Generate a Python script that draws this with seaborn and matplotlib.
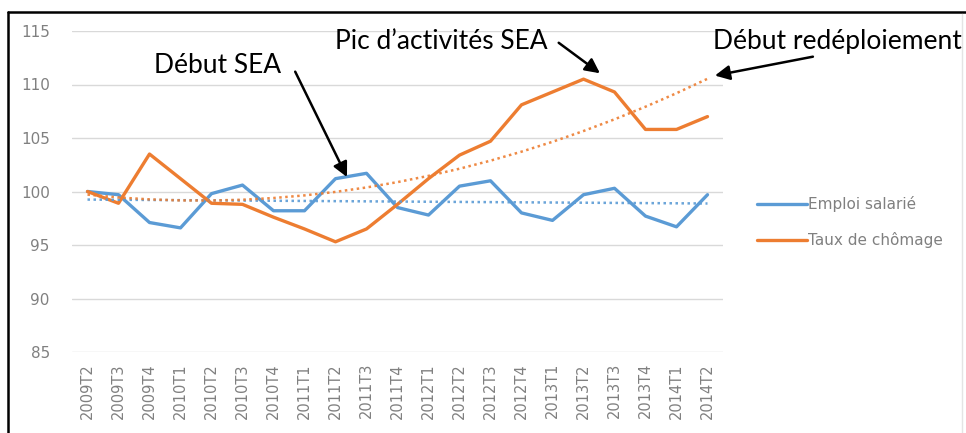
import numpy as np
import pandas as pd
import matplotlib
matplotlib.use("Agg")
import matplotlib.pyplot as plt
import seaborn as sns
from matplotlib.lines import Line2D

# ----------------------------------------------------------------------
# data (index 100 = 2009T2)
# ----------------------------------------------------------------------
quarters = [
    "2009T2", "2009T3", "2009T4",
    "2010T1", "2010T2", "2010T3", "2010T4",
    "2011T1", "2011T2", "2011T3", "2011T4",
    "2012T1", "2012T2", "2012T3", "2012T4",
    "2013T1", "2013T2", "2013T3", "2013T4",
    "2014T1", "2014T2",
]
emploi = [100.0, 99.7, 97.1, 96.6, 99.8, 100.6, 98.2, 98.2, 101.2, 101.7, 98.5,
          97.8, 100.5, 101.0, 98.0, 97.3, 99.7, 100.3, 97.7, 96.7, 99.7]
chomage = [100.0, 98.9, 103.5, 101.2, 98.9, 98.8, 97.6, 96.5, 95.3, 96.5, 98.8,
           101.2, 103.4, 104.7, 108.1, 109.3, 110.5, 109.3, 105.8, 105.8, 107.0]
series_names = ["Emploi salarié", "Taux de chômage"]
yticks = [85, 90, 95, 100, 105, 110, 115]

BLUE = "#5B9BD5"
ORANGE = "#ED7D31"
TICK_GREY = "#808080"

df = pd.DataFrame({
    "trimestre": quarters * 2,
    "valeur": emploi + chomage,
    "serie": [series_names[0]] * len(quarters) + [series_names[1]] * len(quarters),
})

# ----------------------------------------------------------------------
# figure
# ----------------------------------------------------------------------
sns.set_style("white")
plt.rcParams["font.family"] = ["DejaVu Sans"]

W, H = 966, 433
fig = plt.figure(figsize=(W / 100, H / 100), dpi=100)
ax = fig.add_axes([72 / W, 1 - 352 / H, 651 / W, 321 / H])

sns.lineplot(data=df, x="trimestre", y="valeur", hue="serie",
             palette=[BLUE, ORANGE], linewidth=2.4, sort=False,
             legend=False, ax=ax)

# trend lines (Excel style: linear for employment, polynomial for unemployment)
x = np.arange(len(quarters))
trend_e = np.polyval(np.polyfit(x, emploi, 1), x)
trend_c = np.polyval(np.polyfit(x, chomage, 2), x)
ax.plot(x, trend_e, color=BLUE, lw=1.8, linestyle=(0, (1, 1.4)), alpha=0.9)
ax.plot(x, trend_c, color=ORANGE, lw=1.8, linestyle=(0, (1, 1.4)), alpha=0.9)

ax.set_xlim(-0.5, len(quarters) - 0.5)
ax.set_ylim(85, 115)
ax.set_yticks(yticks)
ax.set_yticklabels([str(v) for v in yticks], fontsize=11, color=TICK_GREY)
ax.set_xticks(x)
ax.set_xticklabels(quarters, rotation=90, fontsize=10.5, color=TICK_GREY)
ax.tick_params(length=0, pad=8)
ax.tick_params(axis="y", pad=16)
ax.grid(axis="y", color="#d9d9d9", lw=1)
ax.grid(axis="x", visible=False)
ax.set_xlabel("")
ax.set_ylabel("")
for s in ax.spines.values():
    s.set_visible(False)

# ----------------------------------------------------------------------
# legend
# ----------------------------------------------------------------------
handles = [Line2D([], [], color=BLUE, lw=2.4), Line2D([], [], color=ORANGE, lw=2.4)]
fig.legend(handles, series_names, loc="center left",
           bbox_to_anchor=(743 / W, 1 - 222 / H), frameon=False,
           fontsize=11, handlelength=3.3, handletextpad=0.05, labelspacing=1.3,
           labelcolor=TICK_GREY)

# ----------------------------------------------------------------------
# annotations
# ----------------------------------------------------------------------
i_sea = quarters.index("2011T2")
i_pic = quarters.index("2013T2")
i_end = len(quarters) - 1
afont = dict(fontsize=19, family="Lato", color="black", ha="center", va="center",
             clip_on=False)
arrow = dict(arrowstyle="-|>", color="black", lw=1.8, mutation_scale=22,
             shrinkA=0, shrinkB=0)

ax.text(4.2, 111.8, "Début SEA", **afont)
ax.annotate("", xy=(i_sea + 0.37, emploi[i_sea] + 0.15), xytext=(6.7, 111.2),
            arrowprops=arrow, annotation_clip=False)

ax.text(11.4, 114.0, "Pic d\u2019activités SEA", **afont)
ax.annotate("", xy=(i_pic + 0.53, chomage[i_pic] + 0.55), xytext=(15.2, 113.9),
            arrowprops=arrow, annotation_clip=False)

ax.text(24.2, 114.0, "Début redéploiement", **afont)
ax.annotate("", xy=(i_end + 0.24, trend_c[i_end] + 0.3), xytext=(23.4, 112.6),
            arrowprops=arrow, annotation_clip=False)

# screenshot frame
fig.add_artist(Line2D([8 / W, 1], [1 - 12 / H, 1 - 12 / H], color="black", lw=1.8))
fig.add_artist(Line2D([8 / W, 8 / W], [0, 1 - 12 / H], color="black", lw=1.8))
fig.add_artist(Line2D([962 / W, 962 / W], [0, 1 - 14 / H], color="#e4e4e4", lw=1))

fig.savefig("out.png", dpi=100)
